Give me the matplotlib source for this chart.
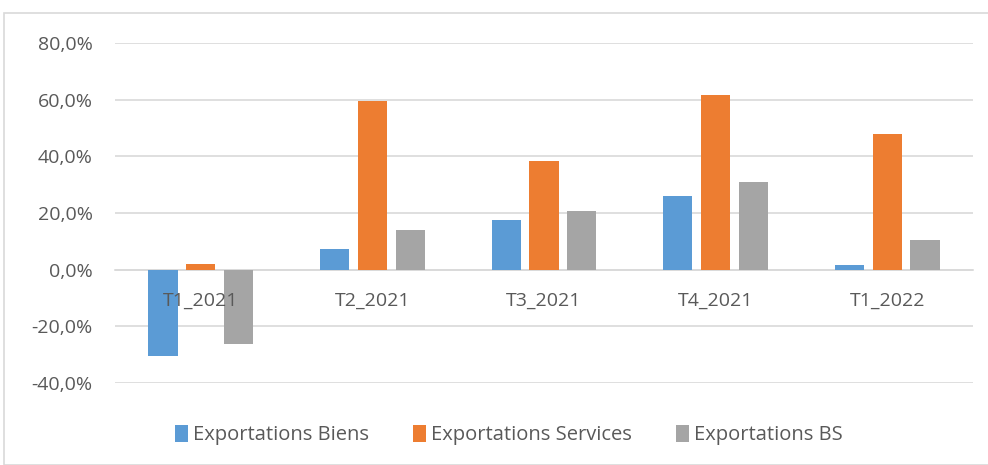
import matplotlib
matplotlib.use("Agg")
import matplotlib.pyplot as plt
import numpy as np
from matplotlib.patches import Rectangle
from matplotlib.ticker import FuncFormatter, MultipleLocator

categories = ["T1_2021", "T2_2021", "T3_2021", "T4_2021", "T1_2022"]
biens = [-30.4, 7.4, 17.4, 25.9, 1.8]
services = [2.1, 59.7, 38.4, 61.5, 47.9]
bs = [-26.1, 14.1, 20.7, 31.0, 10.3]

series = [
    ("Exportations Biens", biens, "#5B9BD5"),
    ("Exportations Services", services, "#ED7D31"),
    ("Exportations BS", bs, "#A5A5A5"),
]

plt.rcParams["font.family"] = ["Open Sans", "DejaVu Sans"]
text_color = "#595959"

fig = plt.figure(figsize=(9.88, 4.65), dpi=100)
ax = fig.add_axes([115 / 988, 1 - 383 / 465, (973 - 115) / 988, (383 - 43) / 465])

# light frame around the chart area
fig.patches.append(Rectangle((4 / 988, 0), 1, 1 - 13 / 465, transform=fig.transFigure,
                             fill=False, edgecolor="#d9d9d9", linewidth=1.2))

x = np.arange(len(categories))
width = 0.17
offsets = [-0.22, 0, 0.22]
for (label, vals, color), off in zip(series, offsets):
    ax.bar(x + off, vals, width, color=color, label=label, zorder=3)

ax.set_ylim(-40, 80)
ax.set_xlim(-0.5, len(categories) - 0.5)
ax.yaxis.set_major_locator(MultipleLocator(20))
ax.yaxis.set_major_formatter(FuncFormatter(lambda v, p: f"{v:.1f}%".replace(".", ",")))
ax.grid(axis="y", color="#d9d9d9", linewidth=1.2, zorder=0)

for side in ["top", "right", "left"]:
    ax.spines[side].set_visible(False)
ax.spines["bottom"].set_position(("data", 0))
ax.spines["bottom"].set_color("#d9d9d9")
ax.spines["bottom"].set_linewidth(1.2)

# category labels sit on top of the bars, just under the zero line
ax.set_xticks(x)
ax.set_xticklabels([])
ax.tick_params(axis="x", length=0)
for xi, cat in zip(x, categories):
    ax.text(xi, -11, cat, ha="center", va="center", fontsize=14, color=text_color, zorder=5)

ax.tick_params(axis="y", length=0, pad=16, labelsize=14, labelcolor=text_color)

ax.legend(loc="center", bbox_to_anchor=(0.515, (465 - 435) / 465), bbox_transform=fig.transFigure,
          ncol=3, frameon=False, fontsize=14.5, labelcolor=text_color,
          handlelength=0.65, handleheight=0.9, handletextpad=0.25, columnspacing=2.2)

fig.savefig("out.png", dpi=100)
